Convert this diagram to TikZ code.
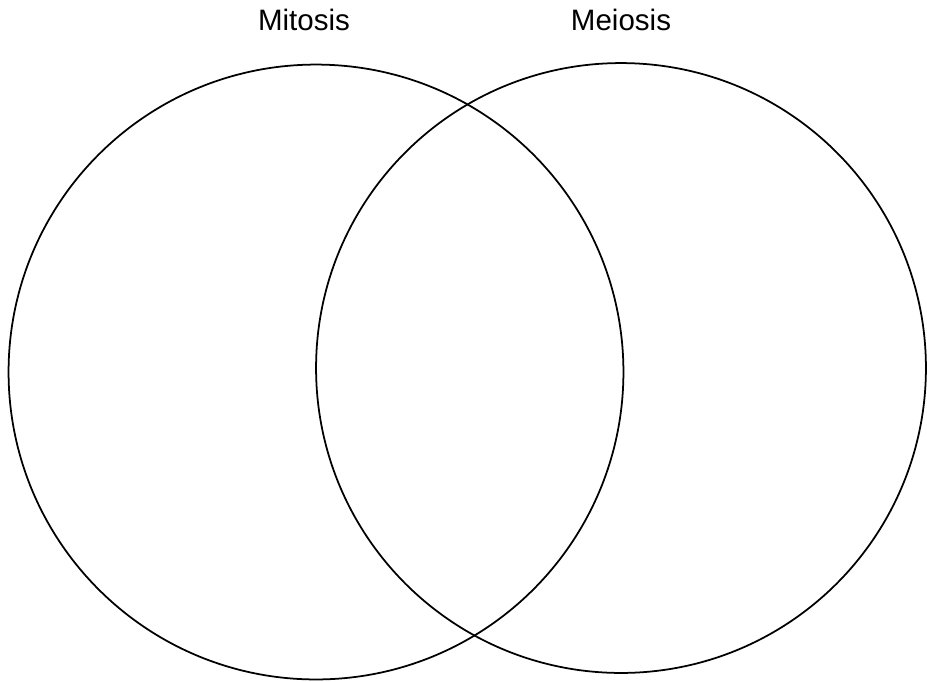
\documentclass[tikz,border=0pt]{standalone}
\usepackage{fontspec}
\setmainfont{Liberation Sans}
\usepackage{tikz}

\begin{document}
\begin{tikzpicture}[x=0.02cm,y=-0.02cm,
	set/.style={draw,circle,line width=1pt,inner sep=0pt,outer sep=0pt},
	title/.style={anchor=base,font=\fontsize{16.8}{20}\selectfont}]
	\useasboundingbox (0,0) rectangle (927,681);
	
	\node[set,minimum size=12.3cm] (mitset) at (316,372) {};
	\node[set,minimum size=12.2cm] (meiset) at (621,368) {};
	
	\node[title] (mitosis) at (304,30) {Mitosis};
	\node[title] (meiosis) at (621,30) {Meiosis};
\end{tikzpicture}
\end{document}
